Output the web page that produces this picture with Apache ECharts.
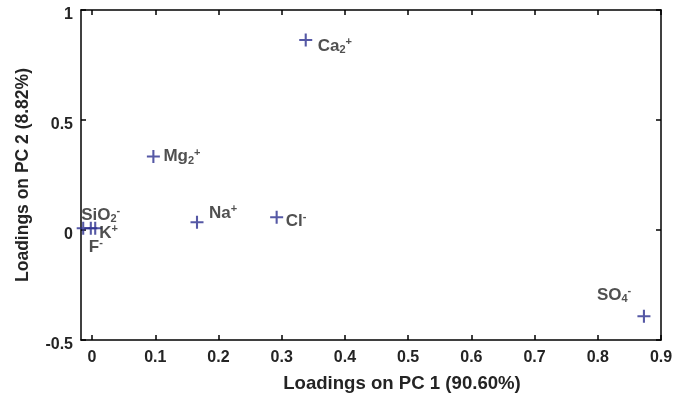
<!DOCTYPE html>
<html>
<head>
<meta charset="utf-8">
<script src="https://cdn.jsdelivr.net/npm/echarts@6/dist/echarts.min.js"></script>
<style>html,body{margin:0;padding:0;background:#fff}#c{width:686px;height:398px}</style>
</head>
<body>
<div id="c"></div>
<script>
// ---- data ----
var ionBase = ['Ca', 'Mg', 'Na', 'Cl', 'SO', 'SiO', 'K', 'F'];
var ionSub  = ['2', '2', '', '', '4', '2', '', ''];
var ionSup  = ['+', '+', '+', '-', '-', '-', '+', '-'];
var pc1 = [0.338, 0.097, 0.166, 0.292, 0.873, -0.014, 0.005, -0.002];
var pc2 = [0.864, 0.334, 0.035, 0.058, -0.392, 0.008, 0.008, 0.008];
var xTickValues = [0, 0.1, 0.2, 0.3, 0.4, 0.5, 0.6, 0.7, 0.8, 0.9];
var xTickLabels = ['0', '0.1', '0.2', '0.3', '0.4', '0.5', '0.6', '0.7', '0.8', '0.9'];
var yTickValues = [-0.5, 0, 0.5, 1];
var yTickLabels = ['-0.5', '0', '0.5', '1'];
var xName = 'Loadings on PC 1 (90.60%)';
var yName = 'Loadings on PC 2 (8.82%)';

// label placement (style, not data): offset of text's left/middle from marker centre
var labelOffsets = [[12, 6], [10, 0], [12, -9], [9, 4], [-47, -21], [-2, -13], [4, 5], [-2, 19]];

var FONT = '"Liberation Sans", Arial, Helvetica, sans-serif';
var TXT = '#242424';
var MARK = '#2A2E8E';

var plusPath = 'path://M4.2,0H5.8V4.2H10V5.8H5.8V10H4.2V5.8H0V4.2H4.2Z';

var points = pc1.map(function (x, i) {
  var txt = '{b|' + ionBase[i] + '}' + (ionSub[i] ? '{sub|' + ionSub[i] + '}' : '') + '{sup|' + ionSup[i] + '}';
  return {
    value: [x, pc2[i]],
    label: {
      show: true,
      formatter: txt,
      position: 'inside',
      align: 'left',
      verticalAlign: 'middle',
      offset: labelOffsets[i]
    }
  };
});

var labelStyle = {fontFamily: FONT, fontWeight: 'bold', fontSize: 17, color: TXT};

var chart = echarts.init(document.getElementById('c'), null, {renderer: 'canvas'});
var xMin = -0.0175, xMax = 0.9;
var baseX = {
  type: 'value', min: xMin, max: xMax,
  splitLine: {show: false},
  axisLine: {show: true, onZero: false, lineStyle: {color: '#000', width: 1.5}},
  axisTick: {show: true, inside: true, length: 5, customValues: xTickValues, lineStyle: {color: '#000', width: 1.5}}
};
var baseY = {
  type: 'value', min: -0.5, max: 1, interval: 0.5,
  splitLine: {show: false},
  axisLine: {show: true, onZero: false, lineStyle: {color: '#000', width: 1.5}},
  axisTick: {show: true, inside: true, length: 5, lineStyle: {color: '#000', width: 1.5}}
};

chart.setOption({
  animation: false,
  backgroundColor: '#fff',
  grid: {left: 81, right: 25, top: 10, bottom: 57, containLabel: false},
  xAxis: [
    Object.assign({}, baseX, {
      position: 'bottom',
      name: xName, nameLocation: 'middle', nameGap: 34,
      nameTextStyle: {fontFamily: FONT, fontWeight: 'bold', fontSize: 18.6, color: TXT, padding: [0, 0, 0, 62]},
      axisLabel: {
        show: true, margin: 10, customValues: xTickValues,
        fontFamily: FONT, fontWeight: 'bold', fontSize: 16, color: TXT,
        formatter: function (v) { var k = xTickValues.indexOf(Math.round(v * 10) / 10); return k >= 0 ? xTickLabels[k] : ''; }
      }
    }),
    Object.assign({}, baseX, {position: 'top', axisLabel: {show: false}})
  ],
  yAxis: [
    Object.assign({}, baseY, {
      position: 'left',
      name: yName, nameLocation: 'middle', nameGap: 49, nameRotate: 90,
      nameTextStyle: {fontFamily: FONT, fontWeight: 'bold', fontSize: 17.5, color: TXT},
      axisLabel: {
        show: true, margin: 8, verticalAlign: 'top', lineHeight: 9,
        fontFamily: FONT, fontWeight: 'bold', fontSize: 16, color: TXT,
        formatter: function (v) { var k = yTickValues.indexOf(v); return k >= 0 ? yTickLabels[k] : ''; }
      }
    }),
    Object.assign({}, baseY, {position: 'right', axisLabel: {show: false}})
  ],
  series: [{
    type: 'scatter',
    xAxisIndex: 0, yAxisIndex: 0,
    symbol: plusPath,
    symbolSize: 13,
    itemStyle: {color: MARK},
    label: {
      rich: {
        b: labelStyle,
        sub: {fontFamily: FONT, fontWeight: 'bold', fontSize: 11, color: TXT, padding: [8, 0, 0, 0]},
        sup: {fontFamily: FONT, fontWeight: 'bold', fontSize: 11, color: TXT, padding: [0, 0, 8, 0]}
      }
    },
    data: points
  }]
});
</script>
</body>
</html>
